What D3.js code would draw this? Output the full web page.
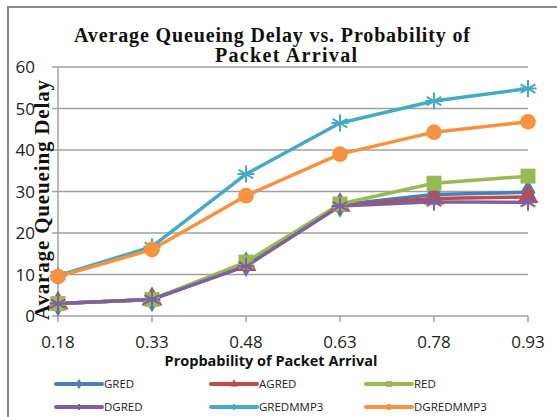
<!DOCTYPE html>
<html>
<head>
<meta charset="utf-8">
<script src="https://cdn.jsdelivr.net/npm/d3@7"></script>
<style>
  body { margin: 0; background: #fff; }
  svg { display: block; }
</style>
</head>
<body>
<script>
var categories = ["0.18", "0.33", "0.48", "0.63", "0.78", "0.93"];
var yTicks = [0, 10, 20, 30, 40, 50, 60];

var gred      = [3, 4, 12.5, 26.8, 29.3, 29.8];
var agred     = [3, 4, 12.3, 26.6, 28.3, 28.7];
var red       = [3, 4, 13, 27, 32, 33.7];
var dgred     = [3, 4, 12, 26.5, 27.5, 27.4];
var gredmmp3  = [9.7, 16.7, 34.2, 46.5, 51.8, 54.8];
var dgredmmp3 = [9.5, 16, 29, 39, 44.3, 46.8];

var seriesNames  = ["GRED", "AGRED", "RED", "DGRED", "GREDMMP3", "DGREDMMP3"];
var seriesValues = [gred, agred, red, dgred, gredmmp3, dgredmmp3];
var seriesColors = ["#4a7ebb", "#be4b48", "#98b954", "#7d60a0", "#46aac5", "#f69240"];
var seriesMarkers = ["diamond", "triangle", "square", "star", "star", "circle"];

var w = 557, h = 417;
var margin = {top: 67, bottom: 101, left: 58, right: 29};

var svg = d3.select("body").append("svg")
    .attr("width", w)
    .attr("height", h);

// frame
svg.append("path")
    .attr("d", "M8," + h + "V7H" + w)
    .attr("fill", "none")
    .attr("stroke", "#8a8a8a")
    .attr("stroke-width", 2);

var x = d3.scalePoint()
    .domain(categories)
    .range([margin.left, w - margin.right]);

var y = d3.scaleLinear()
    .domain([0, 60])
    .range([h - margin.bottom, margin.top]);

// gridlines
svg.append("g")
    .selectAll("line")
    .data(yTicks)
    .enter()
    .append("line")
    .attr("x1", margin.left - 6)
    .attr("x2", w - margin.right)
    .attr("y1", function(d) { return y(d); })
    .attr("y2", function(d) { return y(d); })
    .attr("stroke", "#a0a0a0")
    .attr("stroke-width", 1.5);

// y axis line
svg.append("line")
    .attr("x1", margin.left).attr("x2", margin.left)
    .attr("y1", y(60)).attr("y2", y(0))
    .attr("stroke", "#a0a0a0")
    .attr("stroke-width", 1.5);

// x tick marks
svg.append("g")
    .selectAll("line")
    .data(categories)
    .enter()
    .append("line")
    .attr("x1", function(d) { return x(d); })
    .attr("x2", function(d) { return x(d); })
    .attr("y1", y(0))
    .attr("y2", y(0) + 6)
    .attr("stroke", "#a0a0a0")
    .attr("stroke-width", 1.5);

// y tick labels
svg.append("g")
    .selectAll("text")
    .data(yTicks)
    .enter()
    .append("text")
    .attr("x", 35)
    .attr("y", function(d) { return y(d) + 6; })
    .attr("text-anchor", "end")
    .attr("font-family", "'Open Sans', sans-serif")
    .attr("font-size", 17)
    .attr("fill", "#222")
    .text(function(d) { return d; });

// x tick labels
svg.append("g")
    .selectAll("text")
    .data(categories)
    .enter()
    .append("text")
    .attr("x", function(d) { return x(d); })
    .attr("y", 348)
    .attr("text-anchor", "middle")
    .attr("font-family", "'Open Sans', sans-serif")
    .attr("font-size", 17)
    .attr("fill", "#222")
    .text(function(d) { return d; });

// lines
var line = d3.line()
    .x(function(d, i) { return x(categories[i]); })
    .y(function(d) { return y(d); });

var symbolFor = {
  diamond: d3.symbolDiamond,
  triangle: d3.symbolTriangle,
  square: d3.symbolSquare,
  circle: d3.symbolCircle
};

function drawMarker(g, type, cx, cy, color, size) {
  if (type === "star") {
    var r = size / 2;
    var p = "";
    [0, 60, 120].forEach(function(a) {
      var rad = a * Math.PI / 180;
      p += "M" + (cx - r * Math.sin(rad)) + "," + (cy - r * Math.cos(rad)) +
           "L" + (cx + r * Math.sin(rad)) + "," + (cy + r * Math.cos(rad));
    });
    p += "M" + (cx - r) + "," + cy + "L" + (cx + r) + "," + cy;
    g.append("path").attr("d", p).attr("stroke", color)
      .attr("stroke-width", 2).attr("fill", "none");
  } else {
    g.append("path")
      .attr("transform", "translate(" + cx + "," + cy + ")")
      .attr("d", d3.symbol().type(symbolFor[type]).size(size * size * (type === "square" ? 1 : 0.85))())
      .attr("fill", color);
  }
}

seriesValues.forEach(function(vals, s) {
  svg.append("path")
    .datum(vals)
    .attr("d", line)
    .attr("fill", "none")
    .attr("stroke", seriesColors[s])
    .attr("stroke-width", 3.5)
    .attr("stroke-linejoin", "round");
});

seriesValues.forEach(function(vals, s) {
  var g = svg.append("g");
  var size = seriesMarkers[s] === "star" ? 17 : 15;
  vals.forEach(function(v, i) {
    drawMarker(g, seriesMarkers[s], x(categories[i]), y(v), seriesColors[s], size);
  });
});

// title
svg.append("text")
    .attr("x", 272)
    .attr("y", 42)
    .attr("text-anchor", "middle")
    .attr("font-family", "'Liberation Serif', serif")
    .attr("font-weight", "bold")
    .attr("font-size", 20)
    .attr("textLength", 396)
    .attr("lengthAdjust", "spacing")
    .attr("fill", "#111")
    .text("Average Queueing Delay vs. Probability  of");
svg.append("text")
    .attr("x", 286)
    .attr("y", 62)
    .attr("text-anchor", "middle")
    .attr("font-family", "'Liberation Serif', serif")
    .attr("font-weight", "bold")
    .attr("font-size", 20)
    .attr("textLength", 142)
    .attr("lengthAdjust", "spacing")
    .attr("fill", "#111")
    .text("Packet Arrival");

// y axis title
svg.append("text")
    .attr("transform", "translate(49," + 200 + ") rotate(-90)")
    .attr("text-anchor", "middle")
    .attr("font-family", "'Liberation Serif', serif")
    .attr("font-weight", "bold")
    .attr("font-size", 21)
    .attr("textLength", 240)
    .attr("lengthAdjust", "spacing")
    .attr("fill", "#111")
    .text("Avarage Queueing Delay");

// x axis title
svg.append("text")
    .attr("x", 271)
    .attr("y", 366)
    .attr("text-anchor", "middle")
    .attr("font-family", "'Open Sans', sans-serif")
    .attr("font-weight", "bold")
    .attr("font-size", 14.5)
    .attr("fill", "#111")
    .text("Propbability of Packet Arrival");

// legend
var legend = svg.append("g");
seriesNames.forEach(function(name, s) {
  var col = s % 3, row = Math.floor(s / 3);
  var lx = 56 + col * 155, ly = 384 + row * 23;
  legend.append("line")
    .attr("x1", lx).attr("x2", lx + 46)
    .attr("y1", ly).attr("y2", ly)
    .attr("stroke", seriesColors[s])
    .attr("stroke-width", 4)
    .attr("stroke-linecap", "round");
  drawMarker(legend, seriesMarkers[s], lx + 23, ly, seriesColors[s], 6);
  legend.append("text")
    .attr("x", lx + 48)
    .attr("y", ly + 4)
    .attr("font-family", "'Open Sans', sans-serif")
    .attr("font-size", 11.5)
    .attr("fill", "#222")
    .text(name);
});
</script>
</body>
</html>
